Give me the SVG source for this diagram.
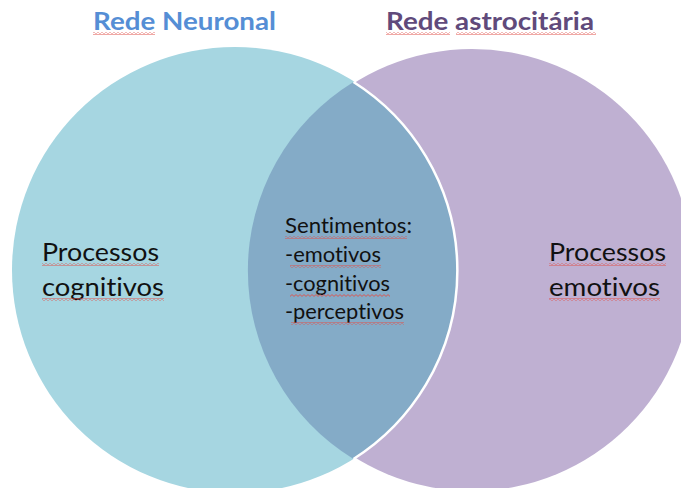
<svg xmlns="http://www.w3.org/2000/svg" width="681" height="488" viewBox="0 0 681 488">
<style>
text{font-variant-ligatures:none;font-feature-settings:"liga" 0,"clig" 0}
.t{font-family:Lato,"Open Sans","Liberation Sans",sans-serif;fill:#111}
.big{font-size:25px}
.mid{font-size:21px}
.title{font-family:Lato,"Open Sans","Liberation Sans",sans-serif;font-size:25.5px;font-weight:bold}
.sq{fill:url(#squig)}
</style>
<defs>
<pattern id="squig" patternUnits="userSpaceOnUse" width="4" height="3">
<path d="M0,0.6 L2,2.4 L4,0.6" fill="none" stroke="#e0504a" stroke-width="0.9"/>
</pattern>
</defs>
<rect width="681" height="488" fill="#fff"/>
<g id="node-astro">
<circle cx="472" cy="270" r="221" fill="#bfb0d2"/>
<text class="title" x="386" y="30" fill="#604a7b" textLength="208" lengthAdjust="spacingAndGlyphs">Rede astrocitária</text>
<rect class="sq" x="386" y="32" width="64" height="3"/>
<rect class="sq" x="456" y="32" width="140" height="3"/>
<text class="t big" x="549" y="261" textLength="117" lengthAdjust="spacingAndGlyphs">Processos</text>
<rect class="sq" x="549" y="263" width="117" height="3"/>
<text class="t big" x="549" y="296" textLength="111" lengthAdjust="spacingAndGlyphs">emotivos</text>
<rect class="sq" x="549" y="298" width="111" height="3"/>
</g>
<g id="node-neuronal">
<circle cx="235" cy="270" r="223" fill="#a6d6e1"/>
<text class="title" x="93" y="30" fill="#558ed5" textLength="183" lengthAdjust="spacingAndGlyphs">Rede Neuronal</text>
<rect class="sq" x="93" y="32" width="62" height="3"/>
<text class="t big" x="42" y="261" textLength="117" lengthAdjust="spacingAndGlyphs">Processos</text>
<rect class="sq" x="42" y="263" width="117" height="3"/>
<text class="t big" x="42" y="296" textLength="122" lengthAdjust="spacingAndGlyphs">cognitivos</text>
<rect class="sq" x="42" y="298" width="122" height="3"/>
</g>
<g id="node-overlap">
<path d="M353.5,82 A223,223 0 0,1 353.5,459 A221,221 0 0,1 353.5,82 Z" fill="#84abc7"/>
<path d="M353.5,82 A223,223 0 0,1 353.5,459" fill="none" stroke="#fff" stroke-width="2.5"/>
<text class="t mid" x="285" y="233" textLength="127" lengthAdjust="spacingAndGlyphs">Sentimentos:</text>
<rect class="sq" x="285" y="236" width="122" height="3"/>
<text class="t mid" x="285" y="262" textLength="96" lengthAdjust="spacingAndGlyphs">-emotivos</text>
<rect class="sq" x="290" y="265" width="91" height="3"/>
<text class="t mid" x="285" y="291" textLength="105" lengthAdjust="spacingAndGlyphs">-cognitivos</text>
<rect class="sq" x="290" y="294" width="100" height="3"/>
<text class="t mid" x="285" y="319" textLength="119" lengthAdjust="spacingAndGlyphs">-perceptivos</text>
<rect class="sq" x="291" y="322" width="113" height="3"/>
</g>
<g id="connectors"/>
</svg>
